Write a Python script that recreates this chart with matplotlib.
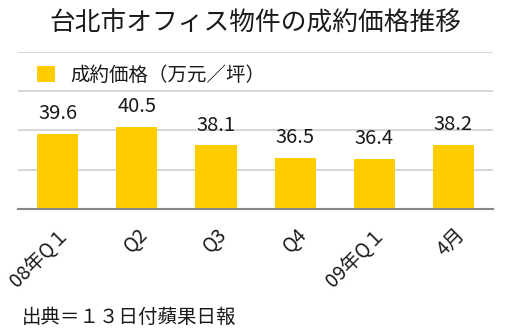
import matplotlib.pyplot as plt
import matplotlib.transforms as mtransforms
import numpy as np

plt.rcParams['font.family'] = ['Noto Sans CJK JP', 'DejaVu Sans']

periods = ["08年Q１", "Q2", "Q3", "Q4", "09年Q１", "4月"]
prices = [39.6, 40.5, 38.1, 36.5, 36.4, 38.2]
title = "台北市オフィス物件の成約価格推移"
series_name = "成約価格（万元／坪）"
source = "出典＝１３日付蘋果日報"

BAR = "#ffcc00"
TXT = "#1a1a1a"

fig = plt.figure(figsize=(5.1, 3.31), dpi=100)
ax = fig.add_axes([0.0353, 0.3686, 0.9314, 0.4744])

x = np.arange(len(periods))
ax.bar(x, prices, width=0.52, color=BAR, label=series_name, zorder=2)
for xi, v in zip(x, prices):
    ax.annotate(f"{v:.1f}", (xi, v), xytext=(0, 7), textcoords="offset points",
                ha="center", va="bottom", fontsize=14.5, color=TXT)

ax.set_xlim(-0.5, len(periods) - 0.5)
ax.set_ylim(30, 50)
ax.set_yticks([35, 40, 45, 50])
ax.yaxis.grid(True, color="#d0d0d0", linewidth=1.2, zorder=0)
ax.tick_params(axis="y", left=False, labelleft=False)
ax.tick_params(axis="x", length=0, pad=16)
ax.set_xticks(x)
ax.set_xticklabels(periods, rotation=45, ha="right", va="center",
                   rotation_mode="anchor", fontsize=14, color=TXT)
# nudge the slanted labels a little to the right of each bar centre
shift = mtransforms.ScaledTranslation(8 / 100, 0, fig.dpi_scale_trans)
for lab in ax.get_xticklabels():
    lab.set_transform(lab.get_transform() + shift)

for s in ["left", "right", "top"]:
    ax.spines[s].set_visible(False)
ax.spines["bottom"].set_color("#888888")
ax.spines["bottom"].set_linewidth(1.5)

ax.legend(loc="center left", bbox_to_anchor=(0.04, 0.853), frameon=False,
          handlelength=0.9, handleheight=0.9, handletextpad=0.8,
          fontsize=14, labelcolor=TXT, borderaxespad=0, borderpad=0)

fig.text(0.5, 0.93, title, ha="center", va="center", fontsize=18.5, color=TXT)
fig.text(0.043, 0.042, source, ha="left", va="center", fontsize=14, color=TXT)

fig.savefig("out.png", dpi=100, facecolor="white")
